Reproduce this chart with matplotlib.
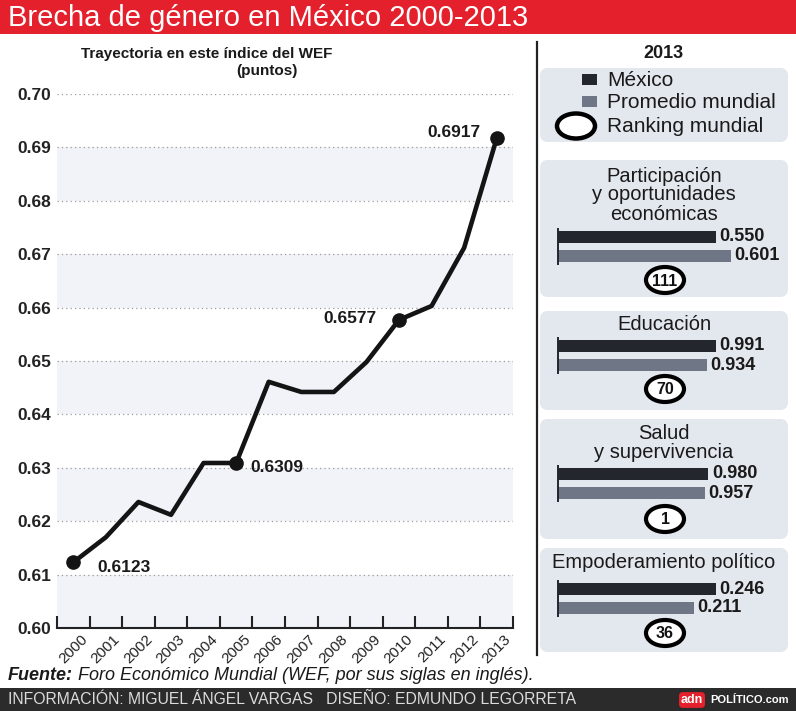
import numpy as np
import matplotlib
matplotlib.use('Agg')
import matplotlib.pyplot as plt
import matplotlib.transforms as mtransforms
from matplotlib.patches import FancyBboxPatch, Rectangle, Ellipse

plt.rcParams['font.family'] = ['Liberation Sans', 'DejaVu Sans']

# --- data ---
years = ['2000', '2001', '2002', '2003', '2004', '2005', '2006',
         '2007', '2008', '2009', '2010', '2011', '2012', '2013']
indice = [0.6123, 0.6170, 0.6236, 0.6212, 0.6309, 0.6309, 0.6461,
          0.6442, 0.6442, 0.6498, 0.6577, 0.6603, 0.6712, 0.6917]
destacados = [0, 5, 10, 13]

pilares = ['Participación\ny oportunidades\neconómicas', 'Educación',
           'Salud\ny supervivencia', 'Empoderamiento político']
mexico = [0.550, 0.991, 0.980, 0.246]
promedio = [0.601, 0.934, 0.957, 0.211]
ranking = [111, 70, 1, 36]

# --- colours / layout (pixels of a 796x711 canvas) ---
W, H = 796, 711
RED = '#e3202b'
DARK = '#23262d'
GREY = '#6f7686'
PANEL = '#e3e7ee'
BAND = '#f1f3f8'

fig = plt.figure(figsize=(W / 100, H / 100), dpi=100)

bg = fig.add_axes([0, 0, 1, 1])
bg.set_xlim(0, W)
bg.set_ylim(H, 0)
bg.axis('off')
bg.set_zorder(-1)


def px_axes(x0, y0, x1, y1):
    return fig.add_axes([x0 / W, 1 - y1 / H, (x1 - x0) / W, (y1 - y0) / H])


# title bar
bg.add_patch(Rectangle((0, 0), W, 34, fc=RED, ec='none'))
bg.text(8, 18, 'Brecha de género en México 2000-2013', color='white',
        fontsize=21, va='center', ha='left')

# subtitle of the line chart
bg.text(207, 54, 'Trayectoria en este índice del WEF', fontsize=11,
        fontweight='bold', ha='center', va='center', color='#1a1a1a')
bg.text(267, 71, '(puntos)', fontsize=11, fontweight='bold',
        ha='center', va='center', color='#1a1a1a')

# --- line chart ---
ax = px_axes(57, 94, 513, 628)
ax.set_facecolor('none')
x = np.arange(len(years))
ax.plot(x, indice, color='#141414', lw=3.3, solid_joinstyle='round', zorder=3)
ax.plot(x[destacados], np.array(indice)[destacados], 'o', ms=9.5,
        color='#141414', zorder=4)

ax.set_xlim(-0.5, len(years) - 0.5)
ax.set_ylim(0.60, 0.70)

yt = np.round(np.arange(0.60, 0.7001, 0.01), 2)
ax.set_yticks(yt)
ax.set_yticklabels([f'{v:.2f}' for v in yt], fontsize=12.5, fontweight='bold',
                   color='#222222')
ax.tick_params(axis='y', length=0, pad=4)
ax.yaxis.grid(True, linestyle=(0, (1, 2.5)), color='#9c9c9c', lw=0.9)
for lo in yt[0:-1:2]:
    ax.axhspan(lo, lo + 0.01, color=BAND, lw=0, zorder=0)

ax.set_xticks(np.arange(len(years) + 1) - 0.5)
ax.set_xticklabels([])
ax.set_xticks(x, minor=True)
ax.set_xticklabels(years, minor=True, rotation=45, ha='right',
                   rotation_mode='anchor', fontsize=11, color='#222222')
ax.tick_params(axis='x', which='major', direction='in', length=8.5,
               width=1.5, color='#222222')
ax.tick_params(axis='x', which='minor', length=0, pad=3)
shift = mtransforms.ScaledTranslation(5 / 72, 0, fig.dpi_scale_trans)
for lbl in ax.get_xticklabels(minor=True):
    lbl.set_transform(lbl.get_transform() + shift)

for s in ['top', 'right', 'left']:
    ax.spines[s].set_visible(False)
ax.spines['bottom'].set_linewidth(1.5)
ax.spines['bottom'].set_color('#222222')
ax.set_axisbelow(True)

label_offsets = {0: (17, -4, 'left'), 5: (10, -3, 'left'),
                 10: (-16, 1, 'right'), 13: (-12, 4, 'right')}
for i in destacados:
    dx, dy, ha = label_offsets[i]
    ax.annotate(f'{indice[i]:.4f}', (x[i], indice[i]), xytext=(dx, dy),
                textcoords='offset points', ha=ha, va='center',
                fontsize=12.5, fontweight='bold', color='#1a1a1a', zorder=5)

# divider
bg.plot([537, 537], [42, 655], color='#222222', lw=1.6)

# --- right side ---
bg.text(663, 53, '2013', fontsize=13, fontweight='bold', ha='center',
        va='center', color='#1a1a1a')

bg.add_patch(FancyBboxPatch((540, 68), 248, 74,
                            boxstyle='round,pad=0,rounding_size=8',
                            fc=PANEL, ec='none'))
bg.add_patch(Rectangle((582, 74), 15, 11, fc=DARK, ec='none'))
bg.add_patch(Rectangle((582, 96), 15, 11, fc=GREY, ec='none'))
bg.add_patch(Ellipse((576, 126), 38, 25, fc='white', ec='black', lw=3.2))
for yy, txt in zip([80, 102, 126], ['México', 'Promedio mundial', 'Ranking mundial']):
    bg.text(607, yy, txt, fontsize=15, va='center', ha='left', color='#1a1a1a')

panel_boxes = [(160, 297), (311, 410), (419, 539), (548, 652)]
title_y = [195, 325, 443, 563]
bar_y = [(237, 256), (346, 365), (474, 493), (589, 608)]
circle_y = [280, 389, 519, 633]
bar_span = [0.55, 0.991, 1.03, 0.246]

for k, name in enumerate(pilares):
    top, bot = panel_boxes[k]
    bg.add_patch(FancyBboxPatch((540, top), 248, bot - top,
                                boxstyle='round,pad=0,rounding_size=8',
                                fc=PANEL, ec='none'))
    bg.text(664, title_y[k], name, fontsize=14.5, ha='center', va='center',
            linespacing=1.0, color='#1a1a1a')

    c1, c2 = bar_y[k]
    s = c2 - c1
    bax = px_axes(558, c1 - s / 2, 716, c2 + s / 2)
    bax.set_facecolor('none')
    vals = [mexico[k], promedio[k]]
    bars = bax.barh([0, 1], vals, height=0.62, color=[DARK, GREY])
    for b in bars:
        b.set_clip_on(False)
    bax.set_xlim(0, bar_span[k])
    bax.set_ylim(1.5, -0.5)
    for i, v in enumerate(vals):
        bax.annotate(f'{v:.3f}', (v, i), xytext=(2.5, 0),
                     textcoords='offset points', ha='left', va='center',
                     fontsize=13, fontweight='bold', color='#1a1a1a',
                     annotation_clip=False)
    for sp in ['top', 'right', 'bottom']:
        bax.spines[sp].set_visible(False)
    bax.spines['left'].set_bounds(-0.4, 1.4)
    bax.spines['left'].set_linewidth(1.4)
    bax.spines['left'].set_color(DARK)
    bax.set_xticks([])
    bax.set_yticks([])

    bg.add_patch(Ellipse((665, circle_y[k]), 38, 26, fc='white', ec='black', lw=3.0))
    bg.text(665, circle_y[k] + 1, str(ranking[k]), fontsize=11.5,
            fontweight='bold', ha='center', va='center', color='#111111')

# source
t1 = bg.text(8, 676, 'Fuente:', fontsize=13, fontweight='bold',
             style='italic', va='center', ha='left', color='#1a1a1a')
bg.annotate(' Foro Económico Mundial (WEF, por sus siglas en inglés).',
            xy=(1, 0), xycoords=t1, xytext=(0, 0), textcoords='offset points',
            va='bottom', ha='left', fontsize=13, style='italic', color='#1a1a1a')

# footer
bg.add_patch(Rectangle((0, 688), W, H - 688, fc='#2b2b2b', ec='none'))
bg.text(8, 700, 'INFORMACIÓN: MIGUEL ÁNGEL VARGAS   DISEÑO: EDMUNDO LEGORRETA',
        fontsize=11.3, color='#dcdcdc', va='center', ha='left')
bg.text(692, 700, 'adn', fontsize=9, fontweight='bold', color='white',
        va='center', ha='center',
        bbox=dict(boxstyle='round,pad=0.15,rounding_size=0.3', fc=RED, ec='none'))
bg.text(710, 700, 'POLÍTICO.com', fontsize=8, fontweight='bold',
        color='white', va='center', ha='left')

fig.savefig('out.png', dpi=100)
